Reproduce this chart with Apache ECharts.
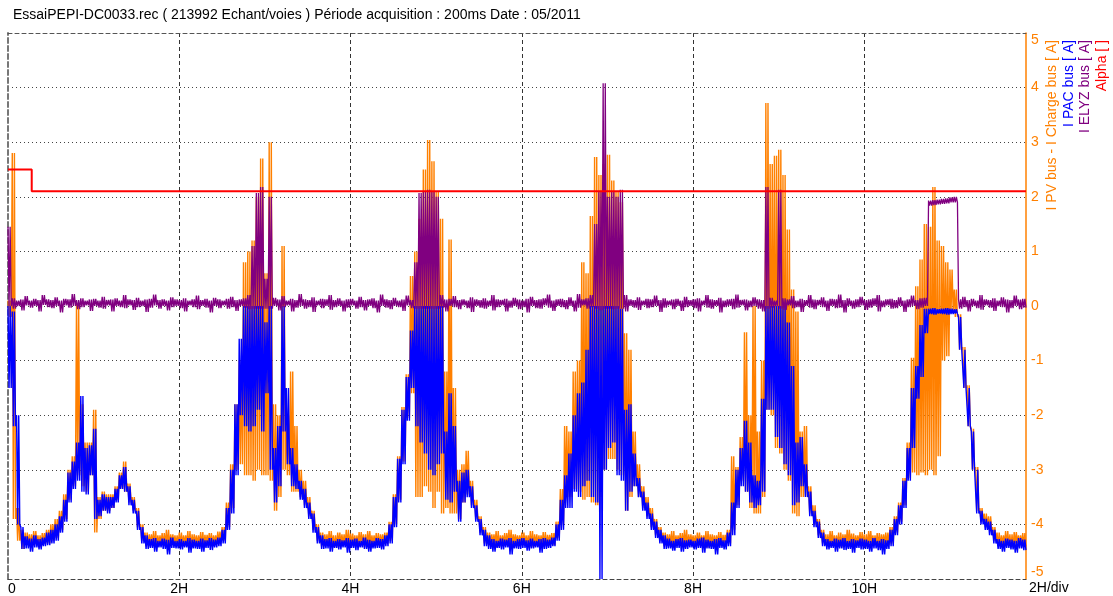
<!DOCTYPE html>
<html>
<head>
<meta charset="utf-8">
<script src="https://cdn.jsdelivr.net/npm/echarts@6.0.0/dist/echarts.min.js"></script>
<style>
html,body{margin:0;padding:0;background:#fff;}
#chart{width:1113px;height:596px;}
</style>
</head>
<body>
<div id="chart"></div>
<script>
// Sampling: one bin every 0.05 h; each bin holds the lowest and highest value seen in it.
const STEP = 0.05;
const T_END = 11.888; // 213992 samples * 200 ms
const X_TICKS = [0, 2, 4, 6, 8, 10];
const Y_TICKS = [-5, -4, -3, -2, -1, 0, 1, 2, 3, 4, 5];

// I PAC bus [A] (blue)
const BLUE_HI = [
 0.0,-0.1,-2.0,-4.05,-4.22,-4.26,-4.2,-4.27,-4.24,-4.15,
 -4.1,-4.0,-3.85,-3.55,-3.05,-2.85,-2.5,-1.65,-2.6,-2.55,
 -2.25,-3.55,-3.45,-3.5,-3.5,-3.35,-3.1,-2.95,-3.3,-3.55,
 -3.75,-4.05,-4.2,-4.27,-4.25,-4.3,-4.26,-4.28,-4.24,-4.3,
 -4.27,-4.3,-4.25,-4.28,-4.3,-4.26,-4.29,-4.25,-4.28,-4.24,
 -4.1,-3.7,-3.0,-1.8,-0.6,0.0,0.0,0.0,0.0,0.0,
 -0.3,0.0,-2.6,-2.2,0.0,-1.5,-2.6,-2.9,-3.2,-3.35,
 -3.6,-3.8,-4.05,-4.2,-4.27,-4.25,-4.3,-4.27,-4.29,-4.25,
 -4.28,-4.26,-4.3,-4.24,-4.28,-4.3,-4.25,-4.27,-4.2,-4.0,
 -3.5,-2.8,-1.9,-1.3,-0.45,0.0,0.0,0.0,0.0,0.0,
 0.0,0.0,-2.3,-1.6,-2.2,-3.2,-3.05,-3.0,-3.3,-3.65,
 -3.9,-4.1,-4.2,-4.27,-4.3,-4.26,-4.28,-4.25,-4.3,-4.27,
 -4.25,-4.29,-4.26,-4.3,-4.27,-4.25,-4.28,-4.24,-4.0,-3.55,
 -3.1,-2.7,-2.0,-1.6,-1.4,-0.8,0.0,0.0,0.0,0.0,
 0.0,0.0,0.0,-0.05,-1.9,-1.8,-2.7,-3.15,-3.4,-3.6,
 -3.8,-3.95,-4.1,-4.2,-4.26,-4.3,-4.27,-4.25,-4.29,-4.28,
 -4.3,-4.26,-4.24,-4.28,-4.3,-4.27,-4.25,-4.29,-4.15,-3.6,
 -3.0,-2.6,-2.1,-2.5,-3.1,-3.2,-1.7,0.0,0.0,0.0,
 0.0,0.0,-0.3,-1.1,-2.5,-2.4,-2.9,-3.4,-3.75,-3.95,
 -4.15,-4.27,-4.3,-4.26,-4.28,-4.25,-4.3,-4.27,-4.29,-4.26,
 -4.28,-4.3,-4.25,-4.3,-4.27,-4.29,-4.1,-3.9,-3.65,-3.2,
 -2.6,-1.5,-1.1,-0.35,-0.05,-0.05,-0.04,-0.06,-0.05,-0.04,
 -0.05,-0.06,-0.2,-0.8,-1.5,-2.3,-3.0,-3.75,-3.9,-3.95,
 -4.1,-4.27,-4.3,-4.26,-4.28,-4.3,-4.25,-4.28
];
const BLUE_LO = [
 -1.5,-2.2,-4.0,-4.45,-4.44,-4.5,-4.42,-4.46,-4.4,-4.38,
 -4.35,-4.3,-4.15,-3.95,-3.6,-3.35,-3.2,-3.4,-3.45,-3.1,
 -3.9,-3.85,-3.75,-3.8,-3.7,-3.6,-3.35,-3.4,-3.65,-3.8,
 -4.1,-4.35,-4.45,-4.43,-4.5,-4.42,-4.45,-4.55,-4.43,-4.44,
 -4.46,-4.42,-4.52,-4.44,-4.45,-4.5,-4.43,-4.47,-4.42,-4.4,
 -4.35,-4.1,-3.8,-3.1,-2.0,-2.2,-2.3,-2.2,-1.9,-2.3,
 -1.6,-3.0,-3.6,-3.3,-2.3,-2.9,-3.3,-3.35,-3.55,-3.7,
 -3.9,-4.15,-4.35,-4.45,-4.44,-4.5,-4.43,-4.46,-4.42,-4.52,
 -4.43,-4.47,-4.42,-4.45,-4.5,-4.44,-4.43,-4.46,-4.4,-4.35,
 -4.05,-3.6,-2.9,-2.1,-1.5,-2.2,-2.5,-2.7,-3.0,-3.1,
 -2.9,-2.7,-3.55,-3.6,-3.4,-3.95,-3.6,-3.5,-3.7,-3.95,
 -4.2,-4.4,-4.45,-4.5,-4.43,-4.46,-4.42,-4.55,-4.44,-4.45,
 -4.43,-4.48,-4.44,-4.42,-4.52,-4.45,-4.43,-4.4,-4.3,-4.1,
 -3.7,-3.7,-3.4,-3.5,-3.3,-3.2,-3.5,-3.6,-5.0,-3.0,
 -2.6,-2.5,-3.1,-3.2,-3.75,-3.4,-3.3,-3.5,-3.75,-3.9,
 -4.1,-4.25,-4.35,-4.45,-4.44,-4.48,-4.43,-4.5,-4.45,-4.42,
 -4.46,-4.43,-4.52,-4.44,-4.45,-4.55,-4.43,-4.46,-4.4,-4.2,
 -3.7,-3.3,-3.4,-3.6,-3.7,-3.65,-3.4,-1.9,-1.9,-2.4,
 -2.6,-2.9,-3.1,-3.65,-3.6,-3.3,-3.5,-3.85,-4.05,-4.25,
 -4.4,-4.46,-4.43,-4.5,-4.44,-4.47,-4.45,-4.52,-4.43,-4.46,
 -4.45,-4.5,-4.44,-4.47,-4.55,-4.45,-4.4,-4.2,-4.0,-3.7,
 -3.2,-2.6,-1.7,-1.3,-0.5,-0.15,-0.16,-0.14,-0.15,-0.16,
 -0.15,-0.14,-0.8,-1.5,-2.2,-3.0,-3.8,-4.0,-4.1,-4.2,
 -4.35,-4.45,-4.5,-4.43,-4.46,-4.52,-4.44,-4.47
];

// I PV bus - I Charge bus [A] (orange)
const ORANGE_HI = [
 0.1,2.8,-3.7,-4.1,-4.15,-4.18,-4.12,-4.2,-4.16,-4.1,
 -4.0,-3.9,-3.75,-3.45,-3.0,-2.75,0.05,-1.8,-2.5,-2.5,
 -1.9,-3.5,-3.4,-3.45,-3.45,-3.3,-3.05,-2.85,-3.25,-3.5,
 -3.7,-4.0,-4.15,-4.18,-4.12,-4.2,-4.16,-4.1,-4.18,-4.2,
 -4.15,-4.2,-4.12,-4.18,-4.2,-4.14,-4.19,-4.16,-4.2,-4.13,
 -4.05,-3.6,-2.9,-1.8,-1.0,0.8,1.0,1.2,2.0,2.7,
 0.6,3.0,-1.8,-2.0,1.1,-2.0,-1.2,-2.2,-3.0,-3.2,
 -3.5,-3.75,-4.0,-4.15,-4.18,-4.12,-4.2,-4.15,-4.18,-4.1,
 -4.17,-4.2,-4.14,-4.18,-4.12,-4.2,-4.16,-4.18,-4.15,-3.95,
 -3.45,-2.75,-1.85,-1.25,0.55,1.0,1.6,2.5,3.04,2.65,
 2.1,1.6,-1.2,1.22,-1.5,-3.0,-2.9,-2.65,-3.2,-3.55,
 -3.85,-4.05,-4.15,-4.18,-4.12,-4.2,-4.16,-4.1,-4.18,-4.2,
 -4.15,-4.2,-4.12,-4.18,-4.2,-4.14,-4.19,-4.16,-3.95,-3.35,
 -2.2,-2.3,-1.2,-1.0,0.8,0.6,1.65,2.73,2.4,2.6,
 2.77,2.3,2.1,1.9,-0.5,-0.8,-2.3,-2.9,-3.3,-3.5,
 -3.7,-3.9,-4.05,-4.15,-4.18,-4.12,-4.2,-4.16,-4.1,-4.18,
 -4.2,-4.15,-4.2,-4.12,-4.18,-4.2,-4.14,-4.19,-4.1,-2.75,
 -2.95,-2.4,-0.48,-2.0,0.0,-2.3,-1.0,3.72,2.6,2.75,
 2.86,2.4,1.4,0.3,-0.1,-2.3,-2.2,-3.3,-3.65,-3.9,
 -4.1,-4.18,-4.12,-4.2,-4.15,-4.18,-4.1,-4.17,-4.2,-4.14,
 -4.18,-4.12,-4.2,-4.16,-4.18,-4.15,-4.05,-3.85,-3.6,-3.15,
 -2.5,-0.95,0.36,0.85,1.5,1.45,2.18,1.2,1.1,0.8,
 0.67,0.3,-0.15,-0.75,-1.45,-2.25,-2.95,-3.7,-3.8,-3.85,
 -4.05,-4.15,-4.2,-4.12,-4.18,-4.14,-4.2,-4.16
];
const ORANGE_LO = [
 -0.2,-3.9,-4.3,-4.45,-4.38,-4.4,-4.36,-4.42,-4.35,-4.35,
 -4.3,-4.25,-4.1,-3.9,-3.55,-3.3,-3.1,-3.3,-3.4,-3.1,
 -4.15,-3.9,-3.75,-3.75,-3.7,-3.55,-3.35,-3.4,-3.6,-3.75,
 -4.05,-4.3,-4.4,-4.36,-4.42,-4.35,-4.38,-4.4,-4.34,-4.37,
 -4.38,-4.35,-4.42,-4.36,-4.37,-4.4,-4.35,-4.38,-4.34,-4.32,
 -4.3,-4.05,-3.7,-3.0,-2.9,-3.1,-3.1,-3.2,-3.0,-3.1,
 -3.1,-3.2,-3.75,-3.5,-3.0,-3.1,-3.4,-3.4,-3.5,-3.65,
 -3.85,-4.1,-4.3,-4.4,-4.36,-4.38,-4.42,-4.35,-4.37,-4.4,
 -4.36,-4.38,-4.35,-4.42,-4.37,-4.36,-4.4,-4.35,-4.35,-4.3,
 -4.0,-3.55,-2.85,-2.05,-1.6,-3.5,-3.5,-3.3,-3.4,-3.7,
 -3.4,-3.8,-3.7,-3.8,-3.8,-3.9,-3.6,-3.45,-3.65,-3.9,
 -4.15,-4.35,-4.4,-4.36,-4.42,-4.35,-4.38,-4.4,-4.34,-4.37,
 -4.38,-4.35,-4.42,-4.36,-4.37,-4.4,-4.35,-4.38,-4.25,-4.0,
 -3.5,-3.5,-3.35,-3.4,-3.55,-3.5,-3.6,-3.65,-3.5,-3.0,
 -2.8,-2.8,-3.0,-3.1,-3.75,-3.5,-3.3,-3.5,-3.7,-3.85,
 -4.05,-4.2,-4.3,-4.4,-4.36,-4.42,-4.35,-4.38,-4.4,-4.34,
 -4.37,-4.38,-4.35,-4.42,-4.36,-4.37,-4.4,-4.35,-4.35,-4.1,
 -3.65,-3.2,-3.4,-3.7,-3.8,-3.8,-3.5,-1.9,-2.0,-2.6,
 -2.7,-3.0,-3.2,-3.8,-3.85,-3.5,-3.5,-3.8,-4.0,-4.2,
 -4.35,-4.4,-4.36,-4.38,-4.42,-4.35,-4.37,-4.4,-4.36,-4.38,
 -4.42,-4.35,-4.37,-4.4,-4.36,-4.38,-4.35,-4.15,-3.95,-3.65,
 -3.15,-3.05,-3.1,-3.05,-3.1,-3.0,-3.1,-2.75,-1.0,-0.92,
 -0.1,-0.2,-0.8,-1.5,-2.2,-3.0,-3.75,-3.95,-4.05,-4.1,
 -4.3,-4.4,-4.36,-4.38,-4.42,-4.35,-4.37,-4.4
];

// I ELYZ bus [A] (purple)
const PURPLE_HI = [
 1.45,0.14,0.1,0.12,0.18,0.1,0.13,0.11,0.2,0.12,
 0.11,0.16,0.1,0.13,0.12,0.22,0.11,0.14,0.1,0.12,
 0.13,0.1,0.17,0.11,0.12,0.14,0.1,0.2,0.12,0.11,
 0.15,0.1,0.12,0.13,0.21,0.11,0.12,0.1,0.16,0.12,
 0.11,0.14,0.1,0.12,0.19,0.11,0.13,0.1,0.15,0.12,
 0.1,0.13,0.17,0.11,0.12,0.14,0.2,1.1,2.07,2.18,
 0.5,2.0,0.15,0.12,0.18,0.1,0.13,0.11,0.22,0.12,
 0.11,0.16,0.1,0.13,0.12,0.2,0.11,0.14,0.1,0.12,
 0.13,0.1,0.17,0.11,0.12,0.14,0.1,0.21,0.12,0.11,
 0.15,0.1,0.12,0.19,0.11,0.8,2.07,2.1,2.13,2.1,
 2.0,0.2,0.12,0.13,0.18,0.11,0.12,0.1,0.16,0.12,
 0.11,0.14,0.1,0.2,0.12,0.11,0.13,0.1,0.15,0.12,
 0.1,0.13,0.17,0.11,0.12,0.14,0.21,0.1,0.12,0.13,
 0.11,0.16,0.1,0.22,0.12,0.14,0.2,1.5,2.1,4.08,
 2.0,2.1,2.0,2.13,0.2,0.12,0.11,0.16,0.1,0.13,
 0.12,0.19,0.11,0.14,0.1,0.12,0.13,0.1,0.17,0.11,
 0.12,0.14,0.1,0.2,0.12,0.11,0.15,0.1,0.12,0.13,
 0.21,0.11,0.12,0.1,0.16,0.12,0.11,2.18,0.15,0.1,
 2.13,0.14,0.12,0.18,0.1,0.13,0.11,0.2,0.12,0.11,
 0.16,0.1,0.13,0.12,0.21,0.11,0.14,0.1,0.12,0.17,
 0.11,0.12,0.14,0.2,0.1,0.12,0.13,0.11,0.16,0.1,
 0.12,0.19,0.11,0.14,0.15,1.93,1.94,1.95,1.96,1.97,
 1.99,2.0,0.12,0.17,0.11,0.13,0.1,0.2,0.12,0.11,
 0.14,0.1,0.16,0.12,0.11,0.19,0.12,0.13
];
const PURPLE_LO = [
 0.0,-0.05,0.0,-0.08,0.01,-0.03,0.0,-0.1,0.02,-0.02,
 -0.04,0.0,-0.12,0.01,-0.03,0.0,-0.06,-0.02,0.01,-0.09,
 0.0,-0.03,-0.05,0.01,-0.1,0.0,-0.02,-0.04,0.01,-0.07,
 -0.02,0.0,-0.11,-0.03,0.01,-0.05,0.0,-0.08,-0.02,0.0,
 -0.04,-0.1,0.01,-0.02,-0.06,0.0,-0.03,-0.12,0.0,-0.04,
 0.01,-0.05,-0.02,-0.09,0.0,-0.03,-0.06,-0.05,-0.05,-0.05,
 -0.05,-0.05,0.0,-0.08,-0.02,0.01,-0.1,-0.03,0.0,-0.05,
 -0.02,-0.11,0.01,-0.04,0.0,-0.07,-0.02,0.0,-0.1,-0.03,
 0.01,-0.05,-0.02,-0.08,0.0,-0.04,-0.12,0.0,-0.03,-0.06,
 0.0,-0.02,-0.09,0.01,-0.04,-0.05,-0.05,-0.05,-0.05,-0.05,
 -0.05,-0.03,-0.1,0.0,-0.02,-0.06,0.01,-0.04,-0.11,0.0,
 -0.03,-0.05,0.0,-0.08,-0.02,0.01,-0.1,-0.03,0.0,-0.06,
 -0.02,-0.12,0.0,-0.04,-0.05,0.01,-0.03,-0.09,0.0,-0.02,
 -0.06,0.0,-0.1,-0.03,0.01,-0.05,-0.02,-0.05,-0.08,-0.05,
 -0.05,-0.06,-0.05,-0.05,-0.1,0.0,-0.03,-0.07,0.01,-0.04,
 -0.02,0.0,-0.11,-0.03,0.01,-0.06,0.0,-0.09,-0.02,0.0,
 -0.04,-0.1,0.01,-0.03,-0.05,0.0,-0.12,-0.02,0.0,-0.06,
 -0.03,0.01,-0.08,-0.02,0.0,-0.05,-0.1,-0.05,-0.03,0.0,
 -0.05,-0.07,0.01,-0.04,-0.02,-0.11,0.0,-0.03,-0.06,0.01,
 -0.02,-0.09,0.0,-0.04,-0.03,-0.12,0.0,-0.05,-0.02,0.01,
 -0.07,-0.03,0.0,-0.1,-0.02,0.01,-0.05,-0.04,0.0,-0.11,
 -0.02,0.0,-0.06,-0.03,0.0,1.84,1.85,1.86,1.87,1.88,
 1.9,1.9,-0.05,-0.02,-0.1,0.0,-0.04,-0.07,0.01,-0.03,
 -0.09,0.0,-0.02,-0.12,-0.04,0.0,-0.06,-0.03
];

// Alpha [ ] (red)
const ALPHA_T = [0, 0.277, 0.277, 11.888];
const ALPHA_V = [2.5, 2.5, 2.1, 2.1];

const TITLE = 'EssaiPEPI-DC0033.rec ( 213992 Echant/voies ) Période acquisition : 200ms Date : 05/2011';
const FONT = '"Liberation Sans", Arial, sans-serif';
const C_ORANGE = '#FF8000', C_BLUE = '#0000FF', C_PURPLE = '#800080', C_RED = '#FF0000';

// Each bin is drawn as a dense hi/lo/hi/lo stroke so it reads like the raw noisy trace.
function zig(lo, hi) {
  const out = [];
  const q = STEP / 4;
  for (let i = 0; i < lo.length; i++) {
    const t = i * STEP;
    out.push([t, hi[i]], [t + q, lo[i]], [t + 2 * q, hi[i]], [t + 3 * q, lo[i]]);
  }
  return out;
}

const chart = echarts.init(document.getElementById('chart'), null, {renderer: 'canvas'});
const lineSeries = (name, data, color, width) => ({
  name, type: 'line', data, symbol: 'none', showSymbol: false,
  animation: false, silent: true, clip: true,
  lineStyle: {color, width}, itemStyle: {color}
});

chart.setOption({
  animation: false,
  backgroundColor: '#fff',
  title: {
    text: TITLE, left: 8, top: 3,
    textStyle: {fontSize: 14, fontWeight: 'normal', color: '#000', fontFamily: FONT}
  },
  grid: {left: 8, right: 87, top: 33, bottom: 16, containLabel: false},
  xAxis: [{
    type: 'value', min: 0, max: T_END, interval: 2, position: 'bottom',
    axisLine: {show: true, onZero: false, lineStyle: {color: '#444', type: [4, 3], width: 1}},
    axisTick: {show: false},
    axisLabel: {
      show: true, color: '#000', fontSize: 14, fontFamily: FONT, margin: 3,
      showMaxLabel: false, alignMinLabel: 'left',
      formatter: v => (X_TICKS.indexOf(v) < 0 ? '' : (v === 0 ? '0' : v + 'H'))
    },
    splitLine: {show: true, showMinLine: false, showMaxLine: false,
      lineStyle: {color: '#333', type: [4, 3], width: 1}}
  }, {
    type: 'value', min: 0, max: T_END, interval: 2, position: 'top',
    axisLine: {show: true, onZero: false, lineStyle: {color: '#555', type: [4, 3], width: 1}},
    axisTick: {show: false}, axisLabel: {show: false}, splitLine: {show: false}
  }],
  yAxis: [{
    type: 'value', min: -5, max: 5, interval: 1, position: 'right',
    axisLine: {show: true, onZero: false, lineStyle: {color: C_ORANGE, width: 1.5}},
    axisTick: {show: false},
    axisLabel: {
      show: true, color: C_ORANGE, fontSize: 14, fontFamily: FONT, margin: 5,
      verticalAlignMaxLabel: 'top', verticalAlignMinLabel: 'bottom',
      formatter: v => (Y_TICKS.indexOf(v) < 0 ? '' : String(v))
    },
    splitLine: {show: true, showMinLine: false, showMaxLine: false,
      lineStyle: {color: '#444', type: [1, 3], width: 1}}
  }, {
    type: 'value', min: -5, max: 5, interval: 1, position: 'left',
    axisLine: {show: true, onZero: false, lineStyle: {color: '#777', type: [5, 3], width: 2}},
    axisTick: {show: false}, axisLabel: {show: false}, splitLine: {show: false}
  }],
  series: [
    lineSeries('I PV bus - I Charge bus', zig(ORANGE_LO, ORANGE_HI), C_ORANGE, 1.4),
    lineSeries('I PAC bus', zig(BLUE_LO, BLUE_HI), C_BLUE, 1.4),
    lineSeries('I ELYZ bus', zig(PURPLE_LO, PURPLE_HI), C_PURPLE, 1.3),
    lineSeries('Alpha', ALPHA_T.map((t, i) => [t, ALPHA_V[i]]), C_RED, 2)
  ],
  graphic: [
    {type: 'text', x: 1052, y: 40, rotation: Math.PI / 2,
     style: {text: 'I PV bus - I Charge bus [ A]', fill: C_ORANGE, fontSize: 14, fontFamily: FONT, align: 'right', verticalAlign: 'middle'}},
    {type: 'text', x: 1069, y: 40, rotation: Math.PI / 2,
     style: {text: 'I PAC bus [ A]', fill: C_BLUE, fontSize: 14, fontFamily: FONT, align: 'right', verticalAlign: 'middle'}},
    {type: 'text', x: 1085, y: 40, rotation: Math.PI / 2,
     style: {text: 'I ELYZ bus [ A]', fill: C_PURPLE, fontSize: 14, fontFamily: FONT, align: 'right', verticalAlign: 'middle'}},
    {type: 'text', x: 1102, y: 40, rotation: Math.PI / 2,
     style: {text: 'Alpha [ ]', fill: C_RED, fontSize: 14, fontFamily: FONT, align: 'right', verticalAlign: 'middle'}},
    {type: 'text', x: 1029, y: 588,
     style: {text: '2H/div', fill: '#000', fontSize: 14, fontFamily: FONT, align: 'left', verticalAlign: 'middle'}}
  ]
});
</script>
</body>
</html>
